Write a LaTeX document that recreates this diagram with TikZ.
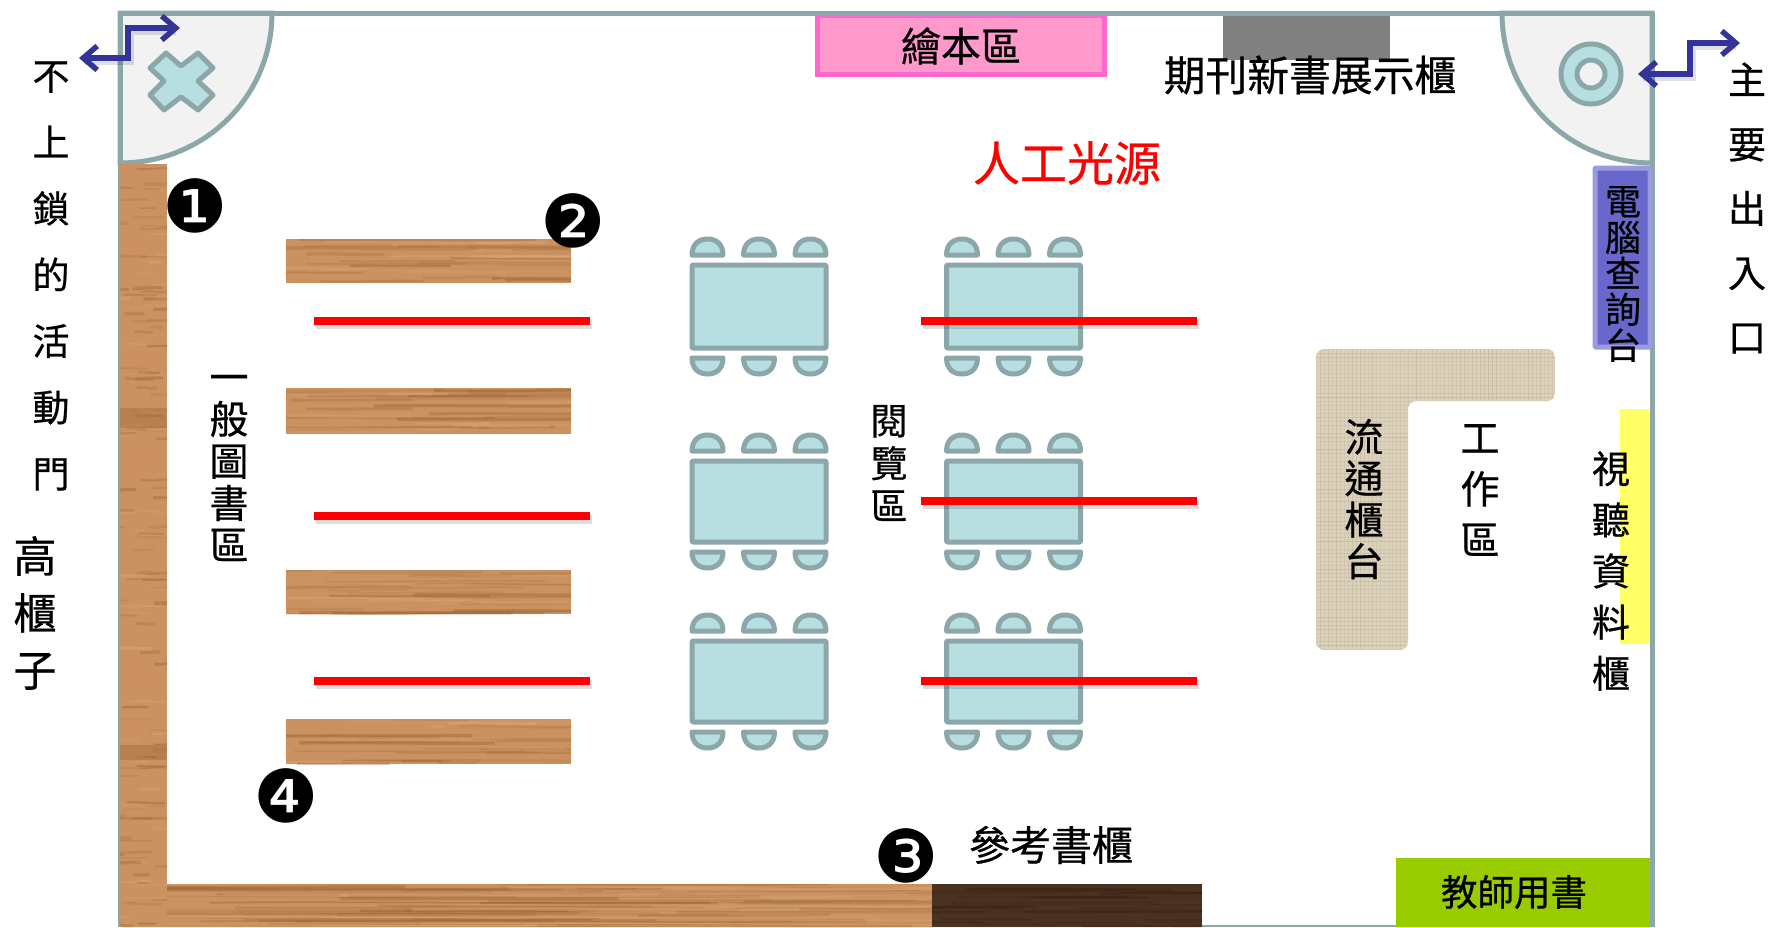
\documentclass[tikz,border=0pt]{standalone}
\usepackage{fontspec}
\newfontfamily\cjk[FakeBold=0.6]{Noto Sans CJK TC}
\newfontfamily\dejavu{DejaVu Sans}
\usetikzlibrary{arrows.meta}
\definecolor{wallc}{HTML}{8BA7A9}
\definecolor{tealf}{HTML}{B7DEE1}
\definecolor{woodc}{HTML}{CB9160}
\definecolor{woodd}{HTML}{8F5B2C}
\definecolor{woodl}{HTML}{E0AE7C}
\definecolor{darkw}{HTML}{4A3120}
\definecolor{darks}{HTML}{2E1D12}
\definecolor{linenc}{HTML}{DCD2BC}
\definecolor{linend}{HTML}{B5A98F}
\definecolor{arrowc}{HTML}{333399}
\definecolor{pinkf}{HTML}{FF99CC}
\definecolor{pinkd}{HTML}{FF66CC}
\definecolor{pcf}{HTML}{6868CC}
\definecolor{pcd}{HTML}{9A9ADE}
\definecolor{greenf}{HTML}{99CC00}
\definecolor{yellowf}{HTML}{FFFF66}
\newcommand{\tsz}[2]{\cjk\fontsize{#1}{#2}\selectfont}
\tikzset{
  wallline/.style={draw=wallc,line width=5pt,line join=round},
  doorleaf/.style={fill=black!5,draw=wallc,line width=5pt},
  tealshape/.style={fill=tealf,draw=wallc,line width=5pt,line join=round},
  redbar/.style={draw=red,line width=8pt},
  redshadow/.style={draw=black,line width=9pt,opacity=.13},
  flowarrow/.style={draw=arrowc,line width=5.5pt,line join=miter,{Straight Barb[length=14pt,width=24pt,line width=5.5pt]}-{Straight Barb[length=14pt,width=24pt,line width=5.5pt]}},
  flowshadow/.style={draw=black,line width=6pt,opacity=.12},
  vtext/.style={align=center,inner sep=0pt,text=black},
  badge/.style={inner sep=0pt,text=black},
}
% x1 y1 x2 y2 base streak count
\newcommand{\woodrect}[7]{%
  \fill[#5] (#1,#2) rectangle (#3,#4);
  \begin{scope}
    \clip (#1,#2) rectangle (#3,#4);
    \foreach \k in {1,...,#7}{
      \pgfmathsetmacro{\yy}{#2+rnd*(#4-#2)}
      \pgfmathsetmacro{\xa}{#1+(rnd-.2)*(#3-#1)}
      \pgfmathsetmacro{\xb}{\xa+(.25+.6*rnd)*(#3-#1)}
      \pgfmathsetmacro{\dy}{2*rnd-1}
      \pgfmathsetmacro{\op}{.12+.25*rnd}
      \pgfmathsetmacro{\lw}{1+2.5*rnd}
      \draw[#6,opacity=\op,line width=\lw pt] (\xa,\yy) .. controls ({\xa+.3*(\xb-\xa)},{\yy+2*\dy}) and ({\xa+.7*(\xb-\xa)},{\yy-2*\dy}) .. (\xb,\yy);
    }
  \end{scope}}
% left, top, bottom
\newcommand{\readtable}[3]{%
  \draw[tealshape,rounded corners=1pt] (#1+2,#2+2) rectangle (#1+136,#3-2);
  \foreach \c in {0,51.5,103}{
    \draw[tealshape] (#1+\c+2,#2-8) .. controls (#1+\c+2,#2-19) and (#1+\c+9,#2-24) .. (#1+\c+17.5,#2-24) .. controls (#1+\c+26,#2-24) and (#1+\c+33,#2-19) .. (#1+\c+33,#2-8) -- cycle;
    \draw[tealshape] (#1+\c+2,#3+8) .. controls (#1+\c+2,#3+19) and (#1+\c+9,#3+24) .. (#1+\c+17.5,#3+24) .. controls (#1+\c+26,#3+24) and (#1+\c+33,#3+19) .. (#1+\c+33,#3+8) -- cycle;
  }}
\newcommand{\redline}[3]{%
  \draw[redshadow] (#1+2,#3+3) -- (#2+2,#3+3);
  \draw[redbar] (#1,#3) -- (#2,#3);}
\begin{document}
\begin{tikzpicture}[x=1pt,y=-1pt]
\useasboundingbox (0,0) rectangle (1769,927);
\fill[white] (0,0) rectangle (1769,927);
\pgfmathsetseed{4242}

% door quarters
\path[doorleaf] (272,13) .. controls (272,97) and (204,163) .. (120,163) -- (120,13) -- cycle;
\path[doorleaf] (1502,13) .. controls (1502,97) and (1569,163) .. (1652,163) -- (1652,13) -- cycle;

% top items
\fill[black!50] (1223,15) rectangle (1390,60);
\draw[draw=pinkd,fill=pinkf,line width=5pt] (817,15) rectangle (1104,74);

% outer wall
\draw[wallline] (120,927) -- (120,13) -- (1652,13) -- (1652,927);
\draw[draw=wallc,line width=2pt] (120,926) -- (1652,926);

% wood cases
\woodrect{120}{164}{167}{927}{woodc}{woodd}{90}
\woodrect{120}{164}{167}{927}{fill=none}{woodl}{50}
\fill[woodd,opacity=.3] (120,408) rectangle (167,428);
\fill[woodd,opacity=.3] (120,745) rectangle (167,760);
\woodrect{167}{884}{932}{927}{woodc}{woodd}{45}
\woodrect{167}{884}{932}{927}{fill=none}{woodl}{25}
\woodrect{932}{884}{1202}{927}{darkw}{darks}{25}
\woodrect{286}{239}{571}{283}{woodc}{woodd}{20}
\woodrect{286}{239}{571}{283}{fill=none}{woodl}{10}
\woodrect{286}{388}{571}{434}{woodc}{woodd}{20}
\woodrect{286}{388}{571}{434}{fill=none}{woodl}{10}
\woodrect{286}{570}{571}{614}{woodc}{woodd}{20}
\woodrect{286}{570}{571}{614}{fill=none}{woodl}{10}
\woodrect{286}{719}{571}{764}{woodc}{woodd}{20}
\woodrect{286}{719}{571}{764}{fill=none}{woodl}{10}

% reading tables
\readtable{690}{263}{350}
\readtable{944.5}{263}{350}
\readtable{690}{459}{544}
\readtable{944.5}{459}{544}
\readtable{690}{639}{724}
\readtable{944.5}{639}{724}

% linen counter
\begin{scope}
  \clip[rounded corners=8pt] (1316,349) -- (1555,349) -- (1555,401) -- (1408,401) -- (1408,650) -- (1316,650) -- cycle;
  \fill[linenc] (1316,349) rectangle (1555,650);
  \foreach \i in {0,...,60}{
    \pgfmathsetmacro{\op}{.1+.35*rnd}
    \draw[linend,opacity=\op,line width=1pt] (1316+4*\i,349) -- (1316+4*\i,650);
  }
  \foreach \i in {0,...,75}{
    \pgfmathsetmacro{\op}{.1+.35*rnd}
    \draw[linend,opacity=\op,line width=1pt] (1316,349+4*\i) -- (1555,349+4*\i);
  }
\end{scope}

% side items
\fill[yellowf] (1620,409) rectangle (1649,644);
\fill[greenf] (1396,858) rectangle (1650,927);
\draw[fill=pcf,draw=pcd,line width=5pt,rounded corners=1pt] (1595,168) rectangle (1650,347);

% door symbols
\draw[tealshape] (181,66) -- (198,53) -- (213,68) -- (198,81) -- (213,95) -- (198,110) -- (181,97) -- (164,110) -- (150,95) -- (164,81) -- (150,68) -- (166,53) -- cycle;
\draw[tealshape,even odd rule] (1591,74) circle[radius=30] (1591,74) circle[radius=14];

% red lighting lines
\redline{314}{590}{321}
\redline{314}{590}{516}
\redline{314}{590}{681}
\redline{921}{1197}{321}
\redline{921}{1197}{501}
\redline{921}{1197}{681}

% arrows
\coordinate (la) at (79,58);
\coordinate (lb) at (180,28);
\coordinate (ra) at (1638,74);
\coordinate (rb) at (1740,43);
\draw[flowshadow] (84,62) -| (131,32) -- (176,32);
\draw[flowshadow] (1643,78) -| (1693,47) -- (1736,47);
\draw[flowarrow] (la) -- (128,58) -- (128,28) -- (lb);
\draw[flowarrow] (ra) -- (1690,74) -- (1690,43) -- (rb);

% labels
\node[vtext,font=\tsz{37}{66.3}] (door2) at (51,276) {不\\上\\鎖\\的\\活\\動\\門};
\node[vtext,font=\tsz{43}{57}] (hcase) at (35,613) {高\\櫃\\子};
\node[vtext,font=\tsz{39}{42}] (gen) at (229,468) {一\\般\\圖\\書\\區};
\node[vtext,font=\tsz{37}{42.5}] (read) at (889,463) {閱\\覽\\區};
\node[inner sep=0pt,font=\tsz{40}{40}] (pic) at (961,46) {繪本區};
\node[inner sep=0pt,font=\tsz{41.8}{42}] (mag) at (1310,75) {期刊新書展示櫃};
\node[inner sep=0pt,text=red,font=\tsz{47}{47}] (light) at (1067,163) {人工光源};
\node[vtext,font=\tsz{36}{36}] (pc) at (1623,274) {電\\腦\\查\\詢\\台};
\node[vtext,font=\tsz{39}{41.5}] (circ) at (1364,499) {流\\通\\櫃\\台};
\node[vtext,font=\tsz{39}{51}] (work) at (1480,490) {工\\作\\區};
\node[vtext,font=\tsz{38}{51.2}] (av) at (1611,571) {視\\聽\\資\\料\\櫃};
\node[inner sep=0pt,font=\tsz{41}{41}] (ref) at (1051,845) {參考書櫃};
\node[inner sep=0pt,font=\tsz{36.5}{37}] (teach) at (1514,892) {教師用書};
\node[vtext,font=\tsz{38}{64.3}] (main) at (1747,208) {主\\要\\出\\入\\口};

% numbered badges
\node[badge,font=\dejavu\fontsize{73}{73}\selectfont] (n1) at (195,206) {❶};
\node[badge,font=\dejavu\fontsize{73}{73}\selectfont] (n2) at (573,221) {❷};
\node[badge,font=\dejavu\fontsize{73}{73}\selectfont] (n3) at (906,856) {❸};
\node[badge,font=\dejavu\fontsize{73}{73}\selectfont] (n4) at (286,796) {❹};
\end{tikzpicture}
\end{document}
